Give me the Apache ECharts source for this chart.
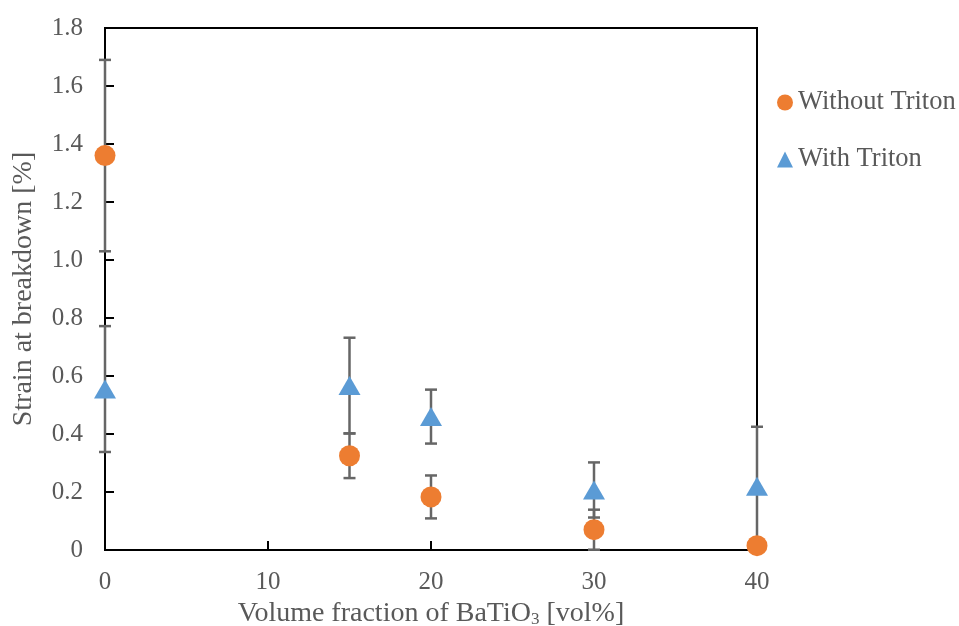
<!DOCTYPE html>
<html>
<head>
<meta charset="utf-8">
<script src="https://cdn.jsdelivr.net/npm/echarts@6/dist/echarts.min.js"></script>
<style>
  html, body {margin: 0; padding: 0; background: #fff;}
  #chart {width: 959px; height: 626px;}
</style>
</head>
<body>
<div id="chart"></div>
<script>
// volume fraction of BaTiO3 [vol%]
const fractions = [0, 15, 20, 30, 40]
// strain at breakdown [%]
const withoutTriton = [1.36, 0.325, 0.183, 0.07, 0.015]
const withoutTritonErr = [0.33, 0.077, 0.074, 0.069, 0.01]
const withTriton = [0.555, 0.567, 0.46, 0.207, 0.22]
const withTritonErr = [0.217, 0.165, 0.093, 0.095, 0.205]

const FONT = '"Liberation Serif", "DejaVu Serif", serif'
const TEXT = '#595959'

function points(vals) {
    return fractions.map((x, i) => [x, vals[i]])
}

function errData(vals, errs) {
    return fractions.map((x, i) => [x, vals[i] - errs[i], vals[i] + errs[i]])
}

function renderErr(params, api) {
    const x = api.value(0)
    const lo = api.coord([x, api.value(1)])
    const hi = api.coord([x, api.value(2)])
    const w = 6
    const style = {stroke: '#666', lineWidth: 2.5}
    return {
        type: 'group',
        children: [
            {type: 'line', shape: {x1: lo[0], y1: lo[1], x2: hi[0], y2: hi[1]}, style},
            {type: 'line', shape: {x1: hi[0] - w, y1: hi[1], x2: hi[0] + w, y2: hi[1]}, style},
            {type: 'line', shape: {x1: lo[0] - w, y1: lo[1], x2: lo[0] + w, y2: lo[1]}, style}
        ]
    }
}

const chart = echarts.init(document.getElementById('chart'))
chart.setOption({
    animation: false,
    textStyle: {fontFamily: FONT, color: TEXT},
    grid: {
        left: 105, right: 202, top: 28, bottom: 76,
        outerBoundsMode: 'none',
        containLabel: false,
        show: true, borderColor: '#000', borderWidth: 2
    },
    legend: {
        orient: 'vertical',
        left: 772, top: 84,
        padding: 5,
        itemGap: 30,
        itemWidth: 16, itemHeight: 16,
        textStyle: {fontFamily: FONT, color: TEXT, fontSize: 26.5},
        data: ['Without Triton', 'With Triton']
    },
    xAxis: {
        type: 'value',
        min: 0, max: 40, interval: 10,
        name: 'Volume fraction of BaTiO{sub|3} [vol%]',
        nameLocation: 'middle',
        nameGap: 46,
        nameTextStyle: {
            fontFamily: FONT, color: TEXT, fontSize: 28,
            rich: {sub: {fontFamily: FONT, color: TEXT, fontSize: 17, padding: [12, 0, 0, 0]}}
        },
        axisLine: {lineStyle: {color: '#000', width: 2}},
        axisTick: {inside: true, length: 9, lineStyle: {color: '#000', width: 2}},
        axisLabel: {margin: 20, fontFamily: FONT, color: TEXT, fontSize: 25},
        splitLine: {show: false}
    },
    yAxis: {
        type: 'value',
        min: 0, max: 1.8, interval: 0.2,
        name: 'Strain at breakdown [%]',
        nameLocation: 'middle',
        nameGap: 67,
        nameTextStyle: {fontFamily: FONT, color: TEXT, fontSize: 28},
        axisLine: {lineStyle: {color: '#000', width: 2}},
        axisTick: {inside: true, length: 9, lineStyle: {color: '#000', width: 2}},
        axisLabel: {
            margin: 22, fontFamily: FONT, color: TEXT, fontSize: 25,
            formatter: v => v === 0 ? '0' : v.toFixed(1)
        },
        splitLine: {show: false}
    },
    series: [
        {
            type: 'custom', name: 'errWithout', renderItem: renderErr,
            data: errData(withoutTriton, withoutTritonErr), clip: false, z: 3
        },
        {
            type: 'custom', name: 'errWith', renderItem: renderErr,
            data: errData(withTriton, withTritonErr), clip: false, z: 3
        },
        {
            type: 'scatter', name: 'Without Triton',
            data: points(withoutTriton),
            symbol: 'circle', symbolSize: 21,
            itemStyle: {color: '#ED7D31', opacity: 1},
            clip: false, z: 5
        },
        {
            type: 'scatter', name: 'With Triton',
            data: points(withTriton),
            symbol: 'triangle', symbolSize: [22, 19],
            itemStyle: {color: '#5B9BD5', opacity: 1},
            clip: false, z: 5
        }
    ]
})
</script>
</body>
</html>
